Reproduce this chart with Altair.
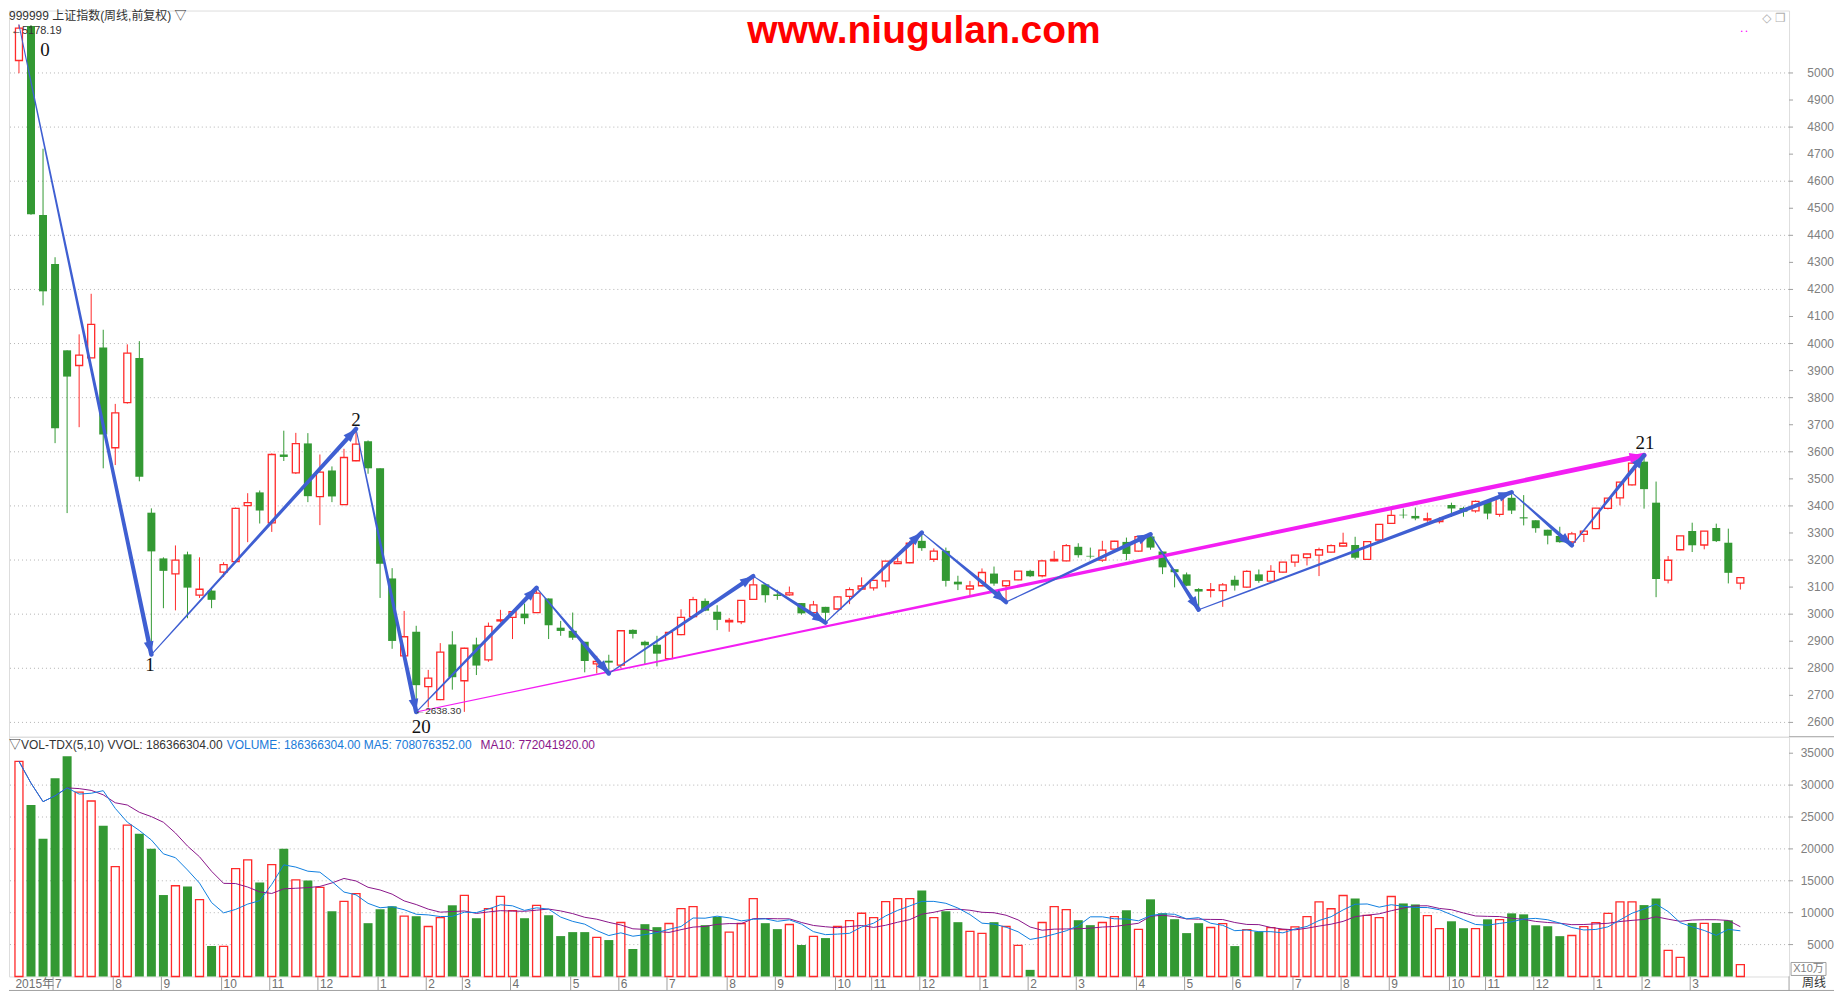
import math
import altair as alt
import pandas as pd

# ---------------- data (weekly candles, 上证指数 2015-06 .. 2018-03) ----------------
opens = [5046, 5174, 4475, 4294, 3975, 3919, 3947, 3985, 3615, 3782,
         3947, 3375, 3206, 3149, 3221, 3070, 3087, 3155, 3194, 3401,
         3450, 3337, 3590, 3522, 3631, 3434, 3531, 3405, 3567, 3639,
         3539, 3132, 2846, 2935, 2732, 2684, 2888, 2754, 2888, 2831,
         2975, 2988, 3002, 3006, 3058, 2950, 2938.5, 2898, 2816, 2828,
         2812, 2942, 2898, 2887, 2836, 2924, 2991, 3049, 3009, 2972,
         2972, 3055, 3110, 3073, 3071, 3041, 3006, 3027, 3019, 3065.6,
         3093, 3097.5, 3123, 3187, 3190, 3271, 3203, 3234, 3120, 3093,
         3105, 3150, 3105, 3127, 3160, 3142, 3197, 3197, 3249, 3215.5,
         3199.6, 3240, 3267, 3233, 3287, 3231.5, 3166, 3147, 3093, 3088,
         3087, 3127, 3100, 3147, 3122, 3155.5, 3192.6, 3208.6, 3218.5, 3229.6,
         3251.8, 3255.5, 3202.4, 3274, 3335.8, 3367.4, 3363, 3348, 3341.7, 3403.5,
         3392.6, 3381.5, 3414.8, 3369, 3430, 3358, 3347, 3312, 3289, 3266.6,
         3295, 3316, 3391.3, 3429.6, 3477.7, 3563.6, 3412, 3126, 3238, 3307.4,
         3255.5, 3318.5, 3264, 3114.5]
highs = [5178.19, 5177, 4720, 4319, 3975, 4034, 4184, 4051, 3777, 3997,
         4009, 3391, 3210, 3254, 3231, 3210, 3100, 3192, 3394, 3447,
         3457, 3594, 3678, 3670, 3669, 3590, 3546, 3611, 3684.57, 3642,
         3539, 3170, 3012, 2957, 2794, 2893, 2937, 2876, 2913, 2969,
         3016, 3009.5, 3039, 3097.08, 3058, 2975, 3006, 2898, 2846, 2850,
         2939, 2944, 2902, 2920, 2933, 3018, 3064, 3058, 3033, 2986,
         3051, 3140.31, 3110, 3090, 3102, 3041, 3049, 3027, 3066, 3099,
         3136, 3127, 3197, 3209, 3271, 3301.21, 3243, 3246, 3142, 3123,
         3169, 3176, 3123, 3160, 3164, 3201, 3234, 3259, 3262, 3246,
         3271, 3271, 3283, 3289, 3295.19, 3231.5, 3166, 3154, 3096, 3115,
         3115, 3142, 3162, 3165, 3181, 3193, 3218, 3223.4, 3246, 3258,
         3301, 3286, 3268.4, 3332, 3385, 3390, 3394, 3375, 3358, 3412,
         3397, 3420, 3415, 3436, 3450.49, 3440, 3347, 3312, 3323, 3304,
         3308.6, 3392.6, 3428.9, 3488.9, 3560.5, 3587.03, 3490, 3215, 3289, 3338,
         3307.4, 3334.5, 3316, 3135]
lows = [4999, 4476, 4141, 3632, 3373.5, 3691, 3947, 3539, 3551, 3778,
        3491, 2850.71, 3022, 3014, 2985, 3060, 3022, 3137, 3190, 3266,
        3335, 3304, 3566, 3518, 3414, 3329, 3414, 3403, 3565, 3519,
        3060, 2872, 2838, 2638.30, 2655, 2682, 2721, 2638.96, 2775, 2824,
        2969, 2908, 2963, 3004, 2908, 2920, 2905, 2785, 2781, 2780.77,
        2800, 2910, 2815, 2807, 2834, 2922, 2989, 3011, 2941, 2935,
        2963, 3053, 3043, 3053, 3068, 2998, 3000, 2969, 3017, 3037,
        3091, 3087, 3099, 3185, 3188, 3234, 3193, 3102, 3089, 3068,
        3103, 3105, 3044.71, 3125, 3137, 3136, 3195, 3195, 3209, 3206,
        3193, 3238, 3199.6, 3231, 3238, 3148, 3099, 3103, 3016.53, 3062,
        3027, 3087, 3097, 3116, 3120, 3153, 3175, 3180, 3140.7, 3228,
        3250, 3202, 3200, 3270, 3334, 3354, 3347, 3341, 3335, 3360,
        3360, 3375, 3350.6, 3360, 3370, 3328, 3301, 3258, 3264, 3254.18,
        3266.6, 3314, 3387, 3402, 3475, 3390, 3062.74, 3113.6, 3236, 3229.6,
        3239.5, 3266.6, 3113.6, 3091]
closes = [5166, 4478, 4193, 3687, 3878, 3957, 4071, 3664, 3744, 3965,
          3508, 3232, 3160, 3200, 3098, 3092, 3053, 3183, 3391, 3412,
          3383, 3590, 3581, 3630, 3436, 3525, 3435, 3579, 3628, 3539,
          3186, 2901, 2916.5, 2737.6, 2763.5, 2860, 2767, 2874, 2810, 2955,
          2979, 3009.5, 2985, 3078, 2959, 2938, 2913, 2827, 2825, 2821,
          2938.7, 2927, 2885, 2854, 2932.5, 2988, 3054, 3013, 2979, 2977,
          3050.7, 3108, 3070, 3067, 3079, 3003, 3034, 3005, 3064, 3091,
          3104, 3125, 3196, 3193, 3262, 3244, 3233, 3123, 3110, 3104,
          3154, 3113, 3123, 3159, 3140, 3197, 3202, 3253, 3218, 3213,
          3237, 3269.5, 3222.5, 3286.6, 3246, 3173, 3155, 3105, 3083.5, 3090.6,
          3108, 3105.5, 3158.4, 3123, 3158, 3192.4, 3218, 3222.4, 3238, 3253,
          3262, 3208.5, 3268.4, 3331.5, 3365.2, 3365.2, 3353.6, 3352.5, 3348.9, 3390.5,
          3378.7, 3416.8, 3371.7, 3432.7, 3382.9, 3353.8, 3317.6, 3290, 3266, 3297,
          3307.2, 3391.8, 3428.9, 3487.9, 3558.1, 3462, 3129.9, 3199.2, 3289, 3254.5,
          3307.2, 3269.9, 3152.8, 3134.8]
# volume in units of 10万
volumes = [33735, 26884, 21590, 31088, 34514, 28908, 27507, 23615, 17231, 23718,
           22369, 20033, 12767, 14221, 14117, 12041, 4775, 4723, 16919, 18269,
           14740, 17542, 20033, 15155, 15051, 13961, 10224, 11781, 12975, 8356,
           10536, 11003, 9446, 9446, 7837, 9238, 11159, 12716, 9134, 10640,
           12560, 10328, 9134, 11159, 9602, 6332, 6955, 6955, 6124, 5709,
           8460, 4308, 8200, 7733, 8304, 10640, 10951, 8045, 9342, 6955,
           8304, 12197, 8356, 7422, 8148, 4931, 6280, 6020, 7837, 8771,
           9913, 9238, 11729, 12197, 12197, 13494, 9238, 10224, 8512, 7058,
           6747, 8512, 7837, 4879, 1038, 8460, 10951, 10484, 8823, 8045,
           8460, 9394, 10380, 7370, 12093, 9913, 8979, 6799, 8356, 7681,
           8288, 4766, 7356, 7045, 7667, 7356, 7770, 9376, 11707, 10619,
           12691, 12225, 9583, 9220, 12536, 11448, 11292, 9531, 7511, 8651,
           7563, 7511, 8961, 8910, 9894, 9738, 8029, 7874, 6320, 6424,
           7822, 8443, 9894, 11707, 11707, 11189, 12225, 4092, 3004, 8392,
           8340, 8392, 8806, 1864]

month_idx = [4, 9, 13, 18, 22, 26, 31, 35, 38, 42, 47, 51, 55, 60, 64, 69, 72,
             76, 81, 85, 89, 94, 98, 102, 107, 111, 115, 120, 123, 127, 132, 136, 140]
month_lbl = ["7", "8", "9", "10", "11", "12", "1", "2", "3", "4", "5", "6", "7", "8",
             "9", "10", "11", "12", "1", "2", "3", "4", "5", "6", "7", "8", "9", "10",
             "11", "12", "1", "2", "3"]

wave_idx = [1, 12, 29, 34, 44, 50, 62, 68, 76, 83, 95, 99, 125, 130, 136]
wave_px = [5178.19, 2850.71, 3684.57, 2638.30, 3097.08, 2780.77, 3140.31, 2969.00,
           3301.21, 3044.71, 3295.19, 3016.53, 3450.49, 3254.18, 3587.03]
trend_idx = [34, 136]
trend_px = [2638.30, 3587.03]

pt_names = ["0", "1", "2", "20", "21"]
pt_idx = [1, 12, 29, 34, 136]
pt_px = [5178.19, 2850.71, 3684.57, 2638.30, 3587.03]

price_ticks = list(range(2600, 5001, 100))
price_grid = list(range(2600, 5001, 200))
vol_ticks = list(range(5000, 35001, 5000))
vol_grid = list(range(5000, 30001, 5000))

# ---------------- styling / layout ----------------
RED = "#ff2a2a"
GREEN = "#339933"
BLUE = "#3f5fd2"
MAG = "#f31ef3"
MA5C = "#1080e0"
MA10C = "#8a168a"
AX = "#808080"
GRID = "#b4b4b4"
SANS = "Liberation Sans, Noto Sans CJK SC, DejaVu Sans"

W, H, HV = 1782, 727, 240
SP = 1733 / 143
X0 = 1 - 5 / SP
X1 = X0 + W / SP
Y0, Y1 = 2547.0, 5230.7
VMAX = 240 / 31.93 * 5000

xs = alt.Scale(domain=[X0, X1], nice=False, zero=False)
ys = alt.Scale(domain=[Y0, Y1], nice=False, zero=False)
vs = alt.Scale(domain=[0, VMAX], nice=False, zero=False)


def X(f="i"):
    return alt.X(f + ":Q", scale=xs, axis=None)


def Y(f="p"):
    return alt.Y(f + ":Q", scale=ys, axis=None)


def VY(f):
    return alt.Y(f + ":Q", scale=vs, axis=None)


def one(t):
    return pd.DataFrame({"t": [t]})


df = pd.DataFrame({"i": list(range(1, len(opens) + 1)), "o": opens, "h": highs,
                   "l": lows, "c": closes, "v": volumes})
df["d"] = ["up" if c >= o else "dn" for o, c in zip(opens, closes)]

# ---------------- price panel ----------------
gridp = alt.Chart(pd.DataFrame({"g": price_grid})).mark_rule(
    color=GRID, strokeDash=[1, 3], strokeWidth=1).encode(y=Y("g"))
ptk = pd.DataFrame({"t": price_ticks})
price_tick_marks = alt.Chart(ptk).mark_rule(color="#a0a0a0", strokeWidth=1).encode(
    x=alt.value(W), x2=alt.value(W + 4), y=Y("t"))
price_tick_lbls = alt.Chart(ptk).mark_text(
    font="Liberation Sans", fontSize=12, color=AX, align="right", baseline="middle").encode(
    x=alt.value(W + 45), y=Y("t"), text=alt.Text("t:Q", format="d"))

cand = alt.Chart(df)
wick = cand.mark_rule(strokeWidth=1).encode(
    x=X(), y=Y("l"), y2="h:Q",
    color=alt.Color("d:N", scale=alt.Scale(domain=["up", "dn"], range=[RED, GREEN]), legend=None))
body_up = cand.transform_filter("datum.d == 'up'").mark_bar(
    width=7, fill="white", stroke=RED, strokeWidth=1.3, orient="vertical").encode(
    x=X(), y=Y("o"), y2="c:Q")
body_dn = cand.transform_filter("datum.d == 'dn'").mark_bar(
    width=8, fill=GREEN, orient="vertical").encode(
    x=X(), y=Y("o"), y2="c:Q")

sy = H / (Y1 - Y0)


def head_angle(i1, p1, i2, p2):
    dxp = (i2 - i1) * SP
    dyp = -(p2 - p1) * sy
    return math.degrees(math.atan2(dxp, -dyp)) % 360


rows = []
for k in range(len(wave_idx) - 1):
    rows.append({"s": k, "i": wave_idx[k], "p": wave_px[k], "w": 1.0})
    rows.append({"s": k, "i": wave_idx[k + 1], "p": wave_px[k + 1], "w": 4.5})
wave_trail = alt.Chart(pd.DataFrame(rows)).mark_trail(color=BLUE).encode(
    x=X(), y=Y(), size=alt.Size("w:Q", scale=None, legend=None), detail="s:N")
heads = pd.DataFrame({"i": wave_idx[1:], "p": wave_px[1:],
                      "a": [head_angle(wave_idx[k], wave_px[k], wave_idx[k + 1], wave_px[k + 1])
                            for k in range(len(wave_idx) - 1)]})
HEAD = "M0,0L-1,2.7L1,2.7Z"
wave_head = alt.Chart(heads).mark_point(shape=HEAD, size=95, filled=True, opacity=1,
                                        color=BLUE, strokeWidth=0).encode(
    x=X(), y=Y(), angle=alt.Angle("a:Q", scale=None))

trows = [{"s": 0, "i": trend_idx[0], "p": trend_px[0], "w": 1.0},
         {"s": 0, "i": trend_idx[1], "p": trend_px[1], "w": 5.0}]
trend_trail = alt.Chart(pd.DataFrame(trows)).mark_trail(color=MAG).encode(
    x=X(), y=Y(), size=alt.Size("w:Q", scale=None, legend=None), detail="s:N")
trend_head = alt.Chart(pd.DataFrame({"i": [trend_idx[1]], "p": [trend_px[1]],
                                     "a": [head_angle(trend_idx[0], trend_px[0],
                                                      trend_idx[1], trend_px[1])]})).mark_point(
    shape=HEAD, size=115, filled=True, opacity=1, color=MAG, strokeWidth=0).encode(
    x=X(), y=Y(), angle=alt.Angle("a:Q", scale=None))

offsets = [(26, 25), (-1.5, 10), (0, -8.5), (5, 15), (1, -12.5)]
pt_layers = []
for k, (dx, dy) in enumerate(offsets):
    d = pd.DataFrame({"i": [pt_idx[k]], "p": [pt_px[k]], "t": [pt_names[k]]})
    pt_layers.append(alt.Chart(d).mark_text(
        font="Liberation Serif", fontSize=19, color="#111111", dx=dx, dy=dy,
        align="center", baseline="middle").encode(x=X(), y=Y(), text="t:N"))

hi_lbl = alt.Chart(one("\u2190" + "5178.19")).mark_text(
    font=SANS, fontSize=11, color="#333333", align="left", baseline="middle").encode(
    x=alt.value(2), y=alt.value(20), text="t:N")
lo_lbl = alt.Chart(pd.DataFrame({"i": [34], "p": [2638.30], "t": ["\u2190" + "2638.30"]})).mark_text(
    font=SANS, fontSize=10, color="#333333", align="left", baseline="middle", dx=-1, dy=-1).encode(
    x=X(), y=Y(), text="t:N")

title_txt = alt.Chart(one("999999 上证指数(周线,前复权) \u25bd")).mark_text(
    font=SANS, fontSize=12, color="#333333", align="left", baseline="top").encode(
    x=alt.value(0), y=alt.value(0), text="t:N")
site_txt = alt.Chart(one("www.niugulan.com")).mark_text(
    font="Liberation Sans", fontWeight="bold", fontSize=39, color="#ff0000",
    align="center", baseline="alphabetic").encode(
    x=alt.value(916), y=alt.value(32), text="t:N")
icons = alt.Chart(one("\u25c7 \u2750")).mark_text(
    font="DejaVu Sans", fontSize=12, color="#b0b0b0", align="right", baseline="middle").encode(
    x=alt.value(W - 3), y=alt.value(7), text="t:N")
dots = alt.Chart(one("\u2022   \u2022")).mark_text(
    font="DejaVu Sans", fontSize=5, color="#ff00ff", align="center", baseline="middle").encode(
    x=alt.value(1737), y=alt.value(20), text="t:N")
div_ext = alt.Chart(one("x")).mark_rule(color="#a0a0a0", strokeWidth=1).encode(
    x=alt.value(W), x2=alt.value(W + 45), y=alt.value(H))

price = alt.layer(gridp, price_tick_marks, price_tick_lbls, wick, body_dn, body_up,
                  trend_trail, trend_head, wave_trail, wave_head, *pt_layers, hi_lbl,
                  lo_lbl, title_txt, site_txt, icons, dots, div_ext).properties(
    width=W, height=H)

# ---------------- volume panel ----------------
gridv = alt.Chart(pd.DataFrame({"g": vol_grid})).mark_rule(
    color=GRID, strokeDash=[1, 3], strokeWidth=1).encode(y=VY("g"))
vtk = pd.DataFrame({"t": vol_ticks})
vol_tick_marks = alt.Chart(vtk).mark_rule(color="#a0a0a0", strokeWidth=1).encode(
    x=alt.value(W), x2=alt.value(W + 4), y=VY("t"))
vol_tick_lbls = alt.Chart(vtk).mark_text(
    font="Liberation Sans", fontSize=12, color=AX, align="right", baseline="middle").encode(
    x=alt.value(W + 45), y=VY("t"), text=alt.Text("t:Q", format="d"))

vbase = alt.Chart(df)
vol_up = vbase.transform_filter("datum.d == 'up'").mark_bar(
    width=8, fill="white", stroke=RED, strokeWidth=1.3, orient="vertical").encode(
    x=X(), y=VY("v"))
vol_dn = vbase.transform_filter("datum.d == 'dn'").mark_bar(
    width=9, fill=GREEN, orient="vertical").encode(x=X(), y=VY("v"))
ma = vbase.transform_window(
    ma5="mean(v)", frame=[-4, 0], sort=[alt.SortField("i")]).transform_window(
    ma10="mean(v)", frame=[-9, 0], sort=[alt.SortField("i")])
ma5 = ma.mark_line(color=MA5C, strokeWidth=1).encode(x=X(), y=VY("ma5"))
ma10 = ma.mark_line(color=MA10C, strokeWidth=1).encode(x=X(), y=VY("ma10"))

hdr1 = alt.Chart(one("\u25bdVOL-TDX(5,10) VVOL: 186366304.00")).mark_text(
    font=SANS, fontSize=12, color="#333333", align="left", baseline="middle").encode(
    x=alt.value(0), y=alt.value(8), text="t:N")
hdr2 = alt.Chart(one("VOLUME: 186366304.00  MA5: 708076352.00")).mark_text(
    font=SANS, fontSize=12, color="#1a7ad8", align="left", baseline="middle").encode(
    x=alt.value(218), y=alt.value(8), text="t:N")
hdr3 = alt.Chart(one("MA10: 772041920.00")).mark_text(
    font=SANS, fontSize=12, color="#8a168a", align="left", baseline="middle").encode(
    x=alt.value(472), y=alt.value(8), text="t:N")

mticks = alt.Chart(pd.DataFrame({"i": month_idx})).mark_rule(
    color="#a0a0a0", strokeWidth=1, xOffset=-2).encode(
    x=X(), y=alt.value(HV), y2=alt.value(HV + 14))
mlabels = alt.Chart(pd.DataFrame({"i": month_idx, "t": month_lbl})).mark_text(
    font=SANS, fontSize=12, color="#707070", align="left", baseline="middle").encode(
    x=X(), y=alt.value(HV + 8), text="t:N")
year_lbl = alt.Chart(pd.DataFrame({"i": [4], "t": ["2015年"]})).mark_text(
    font=SANS, fontSize=12, color="#707070", align="right", baseline="middle", dx=-1).encode(
    x=X(), y=alt.value(HV + 8), text="t:N")
bottom_line = alt.Chart(one("x")).mark_rule(color="#a0a0a0", strokeWidth=1).encode(
    x=alt.value(0), x2=alt.value(W + 45), y=alt.value(HV + 14))
axis_ext = alt.Chart(one("x")).mark_rule(color="#a0a0a0", strokeWidth=1).encode(
    x=alt.value(W), y=alt.value(HV), y2=alt.value(HV + 14))
unit_box = alt.Chart(one("x")).mark_rect(
    fill="white", stroke="#a0a0a0", strokeWidth=1).encode(
    x=alt.value(W + 2), x2=alt.value(W + 37), y=alt.value(HV - 14), y2=alt.value(HV - 1))
unit_txt = alt.Chart(one("X10万")).mark_text(
    font=SANS, fontSize=11, color="#808080", align="center", baseline="middle").encode(
    x=alt.value(W + 19.5), y=alt.value(HV - 7), text="t:N")
week_txt = alt.Chart(one("周线")).mark_text(
    font=SANS, fontSize=12, color="#333333", align="center", baseline="middle").encode(
    x=alt.value(W + 25), y=alt.value(HV + 7), text="t:N")

volume = alt.layer(gridv, vol_tick_marks, vol_tick_lbls, vol_dn, vol_up, ma10, ma5,
                   hdr1, hdr2, hdr3, mticks, mlabels, year_lbl, bottom_line, axis_ext,
                   unit_box, unit_txt, week_txt).properties(width=W, height=HV)

chart = alt.vconcat(price, volume, spacing=0, bounds="flush").properties(
    padding=0).configure_view(stroke="#a0a0a0", strokeWidth=1).configure(background="white")

chart.save("out.html", embed_options={"renderer": "svg", "actions": False})
